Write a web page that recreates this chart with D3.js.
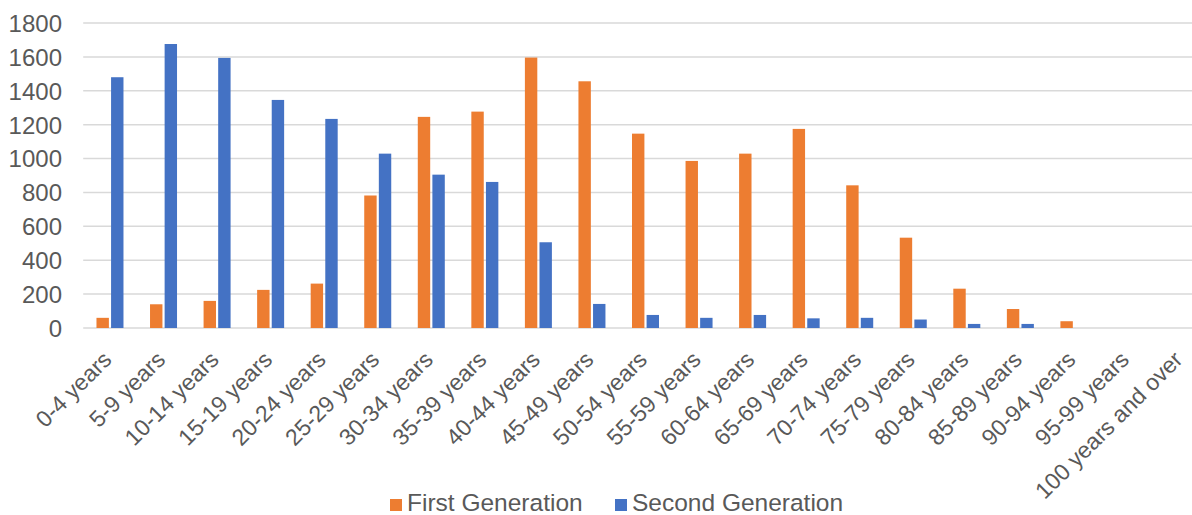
<!DOCTYPE html>
<html>
<head>
<meta charset="utf-8">
<script src="https://cdn.jsdelivr.net/npm/d3@7"></script>
<style>
  html, body { margin: 0; padding: 0; background: #fff; }
  svg { display: block; }
  text { font-family: "Liberation Sans", Arial, sans-serif; fill: #595959; }
</style>
</head>
<body>
<svg id="chart" width="1192" height="515"></svg>
<script>
const categories = ["0-4 years","5-9 years","10-14 years","15-19 years","20-24 years","25-29 years","30-34 years","35-39 years","40-44 years","45-49 years","50-54 years","55-59 years","60-64 years","65-69 years","70-74 years","75-79 years","80-84 years","85-89 years","90-94 years","95-99 years","100 years and over"];
const seriesNames = ["First Generation", "Second Generation"];
const firstGeneration = [60,140,160,225,262,782,1246,1277,1596,1456,1147,986,1029,1175,842,533,232,112,40,0,0];
const secondGeneration = [1480,1676,1594,1346,1234,1029,905,862,506,142,77,60,77,57,60,50,24,24,0,0,0];
const yTicks = [0,200,400,600,800,1000,1200,1400,1600,1800];
const colors = ["#ED7D31", "#4472C4"];

const svg = d3.select("#chart");
const plot = { left: 83.2, right: 1207.8, top: 23, bottom: 328 };

const x0 = d3.scaleBand().domain(categories).range([plot.left, plot.right]).padding(0);
const groupW = 27;
const x1 = d3.scaleBand().domain(seriesNames).range([0, groupW]).paddingInner(0.15);
const y = d3.scaleLinear().domain([0, 1800]).range([plot.bottom, plot.top]);

// gridlines
const grid = svg.append("g");
grid.selectAll("line").data(yTicks).join("line")
  .attr("x1", plot.left).attr("x2", 1192)
  .attr("y1", d => y(d)).attr("y2", d => y(d))
  .attr("stroke", "#d9d9d9").attr("stroke-width", 1.5);

// y axis labels
const yAxis = d3.axisLeft(y).tickValues(yTicks).tickSize(0).tickPadding(0).tickFormat(d3.format("d"));
const yg = svg.append("g").attr("transform", `translate(${62},0)`).call(yAxis);
yg.select(".domain").remove();
yg.selectAll("text").style("font-size", "24px").attr("fill", "#595959").attr("dy", "0.35em");

// bars
const data = categories.map((c, i) => ({ cat: c, vals: [firstGeneration[i], secondGeneration[i]] }));
const off = (x0.bandwidth() - groupW) / 2;
const groups = svg.append("g").selectAll("g").data(data).join("g")
  .attr("transform", d => `translate(${x0(d.cat) + off},0)`);
groups.selectAll("rect").data(d => d.vals.map((v, j) => ({ s: seriesNames[j], v, j })))
  .join("rect")
  .attr("x", d => x1(d.s))
  .attr("width", x1.bandwidth())
  .attr("y", d => y(d.v))
  .attr("height", d => y(0) - y(d.v))
  .attr("fill", d => colors[d.j]);

// x axis labels
const xAxis = d3.axisBottom(x0).tickSize(0).tickPadding(0);
const xg = svg.append("g").attr("transform", `translate(0,${plot.bottom})`).call(xAxis);
xg.select(".domain").remove();
xg.selectAll("text")
  .style("font-size", "23px")
  .attr("fill", "#595959")
  .attr("text-anchor", "end")
  .attr("dy", "0")
  .attr("transform", "translate(3,33) rotate(-45)");

// legend
const legend = svg.append("g");
const legendItems = [{ name: seriesNames[0], x: 390 }, { name: seriesNames[1], x: 615 }];
legendItems.forEach((it, i) => {
  legend.append("rect").attr("x", it.x).attr("y", 499).attr("width", 12).attr("height", 12).attr("fill", colors[i]);
  legend.append("text").attr("x", it.x + 17).attr("y", 511).style("font-size", "24.5px").text(it.name);
});
</script>
</body>
</html>
